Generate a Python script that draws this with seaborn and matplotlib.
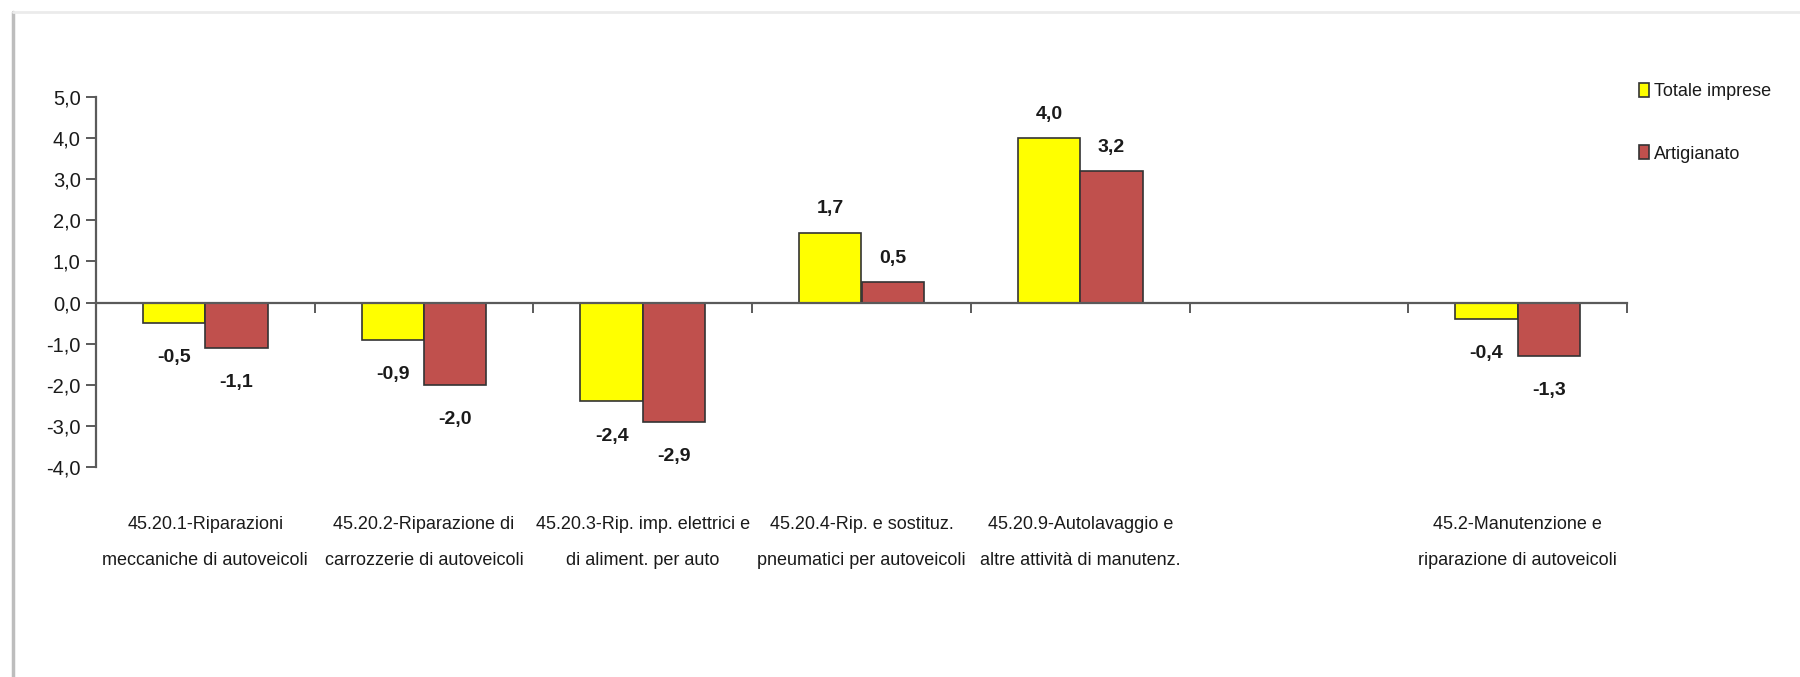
#Bar chart - Totale imprese vs Artigianato, var. % by activity

#Import libraries
import numpy as np
import matplotlib
matplotlib.use('Agg')
import matplotlib.pyplot as plt
import matplotlib.ticker as mticker
from matplotlib import font_manager
from matplotlib.lines import Line2D
import pandas as pd
import seaborn as sns

#Data
categories = ['45.20.1-Riparazioni\nmeccaniche di autoveicoli',
              '45.20.2-Riparazione di\ncarrozzerie di autoveicoli',
              '45.20.3-Rip. imp. elettrici e\ndi aliment. per auto',
              '45.20.4-Rip. e sostituz.\npneumatici per autoveicoli',
              '45.20.9-Autolavaggio e\naltre attività di manutenz.',
              ' ',
              '45.2-Manutenzione e\nriparazione di autoveicoli']
totale_imprese = [-0.5, -0.9, -2.4, 1.7, 4.0, np.nan, -0.4]
artigianato = [-1.1, -2.0, -2.9, 0.5, 3.2, np.nan, -1.3]
series_names = ['Totale imprese', 'Artigianato']
y_ticks = [-4, -3, -2, -1, 0, 1, 2, 3, 4, 5]

#Long dataframe for seaborn
df = pd.DataFrame({'Categoria': categories * 2,
                   'Valore': totale_imprese + artigianato,
                   'Serie': [series_names[0]] * len(categories) +
                            [series_names[1]] * len(categories)})

#Font: narrow if available
names = {f.name for f in font_manager.fontManager.ttflist}
if 'Liberation Sans Narrow' in names:
    fam = ['Liberation Sans Narrow', 'DejaVu Sans']
    size_tick, size_lab, size_cat = 17.5, 17, 16
else:
    fam = ['Liberation Sans', 'DejaVu Sans']
    size_tick, size_lab, size_cat = 14.5, 14, 13

sns.set_style('white')
plt.rcParams['font.family'] = fam
text_col = '#1a1a1a'
axis_col = '#5a5a5a'

fig = plt.figure(figsize=(18, 6.77), dpi=100)
ax = fig.add_axes([96 / 1800, 1 - 467.3 / 677,
                   (1627 - 96) / 1800, (467.3 - 96.7) / 677])

sns.barplot(data=df, x='Categoria', y='Valore', hue='Serie',
            order=categories, hue_order=series_names,
            palette=['#FFFF00', '#C0504D'], width=0.57,
            edgecolor='#333333', linewidth=1.2, saturation=1,
            errorbar=None, ax=ax)

#Axes limits and spines
ax.set_xlim(-0.5, len(categories) - 0.5)
ax.set_ylim(-4, 5)
ax.spines['top'].set_visible(False)
ax.spines['right'].set_visible(False)
ax.spines['bottom'].set_position(('data', 0))
for s in ['left', 'bottom']:
    ax.spines[s].set_color(axis_col)
    ax.spines[s].set_linewidth(1.6)

#Ticks
ax.set_yticks(y_ticks)
ax.yaxis.set_major_formatter(mticker.FuncFormatter(
    lambda v, p: ('%.1f' % v).replace('.', ',')))
ax.tick_params(axis='y', direction='out', length=7, width=1.4,
               color=axis_col, pad=4, labelsize=size_tick,
               labelcolor=text_col, left=True)
ax.set_xticks(np.arange(0.5, len(categories), 1))
ax.set_xticklabels([])
ax.tick_params(axis='x', direction='out', length=7, width=1.4,
               color=axis_col, bottom=True)
ax.set_xlabel('')
ax.set_ylabel('')

#Category labels below the plot area
for i, cat in enumerate(categories):
    ax.annotate(cat, xy=(i, 0), xycoords=ax.get_xaxis_transform(),
                xytext=(0, -35), textcoords='offset points',
                ha='center', va='top', fontsize=size_cat,
                color=text_col, linespacing=2.45)

#Data labels
for cont in ax.containers:
    for bar in cont:
        h = bar.get_height()
        if np.isnan(h):
            continue
        off = 17 if h >= 0 else -25
        ax.annotate(('%.1f' % h).replace('.', ','),
                    xy=(bar.get_x() + bar.get_width() / 2, h),
                    xytext=(0, off), textcoords='offset points',
                    ha='center', va='center', fontsize=size_lab,
                    fontweight='bold', color=text_col)

#Legend
ax.legend(loc='upper left', bbox_to_anchor=(1630 / 1800, 1 - 74 / 677),
          bbox_transform=fig.transFigure, frameon=False,
          fontsize=size_cat, handlelength=0.55, handleheight=0.8,
          handletextpad=0.3, labelspacing=2.5, borderpad=0,
          labelcolor=text_col)

#Screenshot frame
fig.add_artist(Line2D([12.5 / 1800, 12.5 / 1800], [0, 1 - 12 / 677],
                      transform=fig.transFigure, color='#bdbdbd', lw=2.5))
fig.add_artist(Line2D([12.5 / 1800, 1], [1 - 12 / 677, 1 - 12 / 677],
                      transform=fig.transFigure, color='#ebebeb', lw=2))

fig.savefig('out.png', dpi=100)
